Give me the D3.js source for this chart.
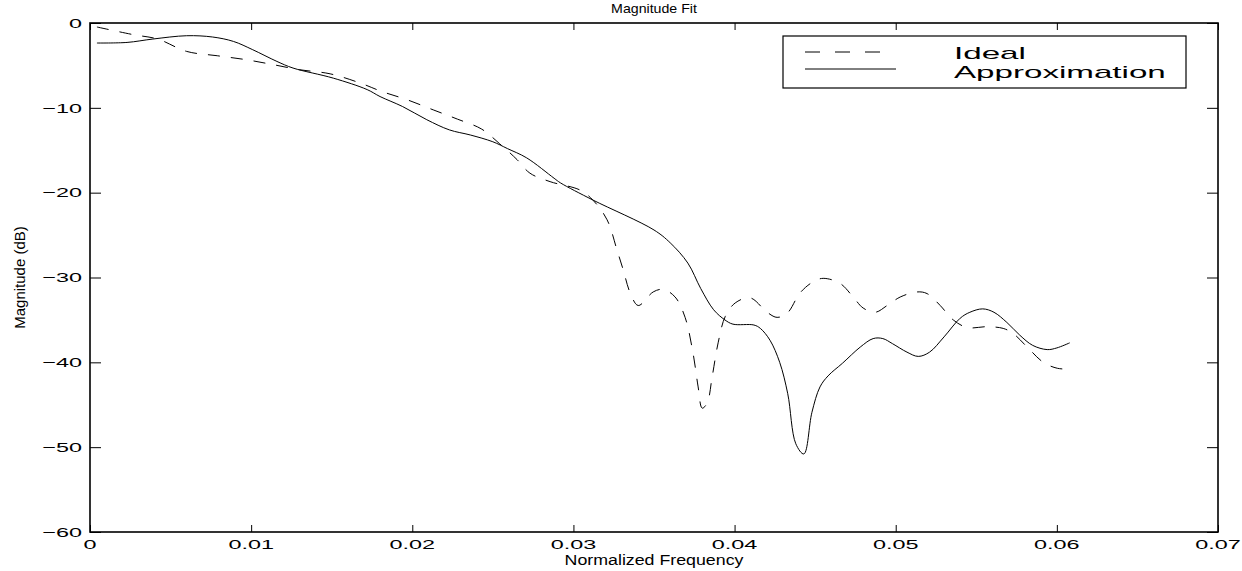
<!DOCTYPE html>
<html>
<head>
<meta charset="utf-8">
<script src="https://cdn.jsdelivr.net/npm/d3@7"></script>
<style>
  html, body { margin: 0; padding: 0; background: #fff; }
  svg { display: block; font-family: "Liberation Sans", Arial, Helvetica, sans-serif; }
</style>
</head>
<body>
<svg id="chart" width="1242" height="571"></svg>
<script>
// ---- Data ----
const idealFreq = [0.00043,0.0027,0.0042,0.0060,0.0079,0.0097,0.0114,0.0130,0.0149,0.0168,0.0181,0.0197,0.0213,0.0228,0.0243,0.0254,0.0265,0.0273,0.02855,0.03042,0.03122,0.03209,0.03271,0.03309,0.03352,0.03402,0.03495,0.03557,0.03631,0.03693,0.03743,0.03774,0.03799,0.0383,0.03861,0.03898,0.03942,0.04004,0.04097,0.04202,0.04264,0.04327,0.04407,0.04488,0.0455,0.04655,0.04736,0.04798,0.04873,0.04947,0.05028,0.05133,0.05195,0.05276,0.05357,0.05444,0.05568,0.05667,0.05729,0.05816,0.05916,0.06003,0.06083];
const idealMag = [-0.47,-1.38,-1.89,-3.35,-3.86,-4.33,-4.92,-5.51,-5.99,-7.1,-8.07,-9.06,-10.24,-11.33,-12.5,-14.2,-16.1,-17.7,-18.7,-19.7,-20.9,-23.2,-26.8,-29.1,-31.8,-33.3,-31.7,-31.4,-32.3,-34.7,-39.0,-42.9,-45.4,-44.8,-41.7,-37.7,-34.6,-33.0,-32.4,-34.1,-34.7,-34.2,-31.8,-30.5,-30.1,-30.7,-32.3,-33.6,-34.1,-33.3,-32.3,-31.7,-31.9,-33.3,-35.0,-35.9,-35.8,-36.0,-36.6,-38.2,-40.0,-40.7,-40.8];

const approxFreq = [0.00043,0.0023,0.0039,0.0060,0.0076,0.0089,0.0101,0.0116,0.0126,0.0151,0.0172,0.0180,0.0194,0.0209,0.0223,0.0236,0.0250,0.0259,0.0271,0.0288,0.0292,0.0312,0.0350,0.0360,0.0371,0.0379,0.0387,0.0394,0.0399,0.0412,0.0416,0.0422,0.0428,0.0433,0.0438,0.0443,0.0448,0.0453,0.0458,0.0467,0.0478,0.0486,0.0492,0.0498,0.0507,0.0514,0.0521,0.0530,0.0540,0.0546,0.0554,0.0561,0.0569,0.0577,0.0585,0.0594,0.0600,0.0608];
const approxMag = [-2.36,-2.29,-1.89,-1.5,-1.65,-2.17,-3.15,-4.53,-5.31,-6.5,-7.85,-8.67,-9.85,-11.4,-12.6,-13.2,-14.0,-14.8,-15.9,-18.3,-18.85,-20.86,-24.4,-25.9,-28.3,-31.3,-33.8,-35.0,-35.5,-35.6,-36.0,-37.4,-40.0,-43.7,-49.6,-50.8,-45.9,-42.9,-41.6,-40.1,-38.2,-37.2,-37.2,-37.8,-38.8,-39.3,-38.8,-37.0,-34.8,-34.1,-33.7,-34.1,-35.3,-36.8,-38.0,-38.5,-38.3,-37.7];

const xTicks = [0, 0.01, 0.02, 0.03, 0.04, 0.05, 0.06, 0.07];
const xTickLabels = ["0", "0.01", "0.02", "0.03", "0.04", "0.05", "0.06", "0.07"];
const yTicks = [0, -10, -20, -30, -40, -50, -60];
const yTickLabels = ["0", "\u221210", "\u221220", "\u221230", "\u221240", "\u221250", "\u221260"];
const seriesNames = ["Ideal", "Approximation"];
const titleText = "Magnitude Fit";
const xLabel = "Normalized Frequency";
const yLabel = "Magnitude (dB)";

// ---- Layout ----
const L = 90, R = 1218, T = 23, B = 532;
const svg = d3.select("#chart");
const x = d3.scaleLinear().domain([0, 0.07]).range([L, R]);
const y = d3.scaleLinear().domain([-60, 0]).range([B, T]);

function stext(g, px, py, str, size, sx, anchor) {
  return g.append("text")
    .attr("transform", `translate(${px},${py}) scale(${sx},1)`)
    .attr("text-anchor", anchor)
    .style("font-size", size + "px")
    .attr("fill", "#000")
    .text(str);
}

// Lines
const ideal = idealFreq.map((f, i) => [f, idealMag[i]]);
const approx = approxFreq.map((f, i) => [f, approxMag[i]]);
const line = d3.line().x(d => x(d[0])).y(d => y(d[1])).curve(d3.curveCatmullRom.alpha(0.5));

svg.append("path").datum(ideal).attr("d", line)
  .attr("fill", "none").attr("stroke", "#000").attr("stroke-width", 1)
  .attr("stroke-dasharray", "12,11");
svg.append("path").datum(approx).attr("d", line)
  .attr("fill", "none").attr("stroke", "#000").attr("stroke-width", 1);

// Axes with inward ticks on all four sides
const axB = d3.axisBottom(x).tickValues(xTicks).tickSize(-7).tickFormat("");
const axT = d3.axisTop(x).tickValues(xTicks).tickSize(-7).tickFormat("");
const axLft = d3.axisLeft(y).tickValues(yTicks).tickSize(-11).tickFormat("");
const axRgt = d3.axisRight(y).tickValues(yTicks).tickSize(-11).tickFormat("");
function styleAxis(g) {
  g.select(".domain").remove();
  g.selectAll(".tick line").attr("stroke", "#000").attr("stroke-width", 1);
}
svg.append("g").attr("transform", `translate(0,${B})`).call(axB).call(styleAxis);
svg.append("g").attr("transform", `translate(0,${T})`).call(axT).call(styleAxis);
svg.append("g").attr("transform", `translate(${L},0)`).call(axLft).call(styleAxis);
svg.append("g").attr("transform", `translate(${R},0)`).call(axRgt).call(styleAxis);

svg.append("rect").attr("x", L).attr("y", T).attr("width", R - L).attr("height", B - T)
  .attr("fill", "none").attr("stroke", "#000").attr("stroke-width", 1.6);

// Tick labels
const tl = svg.append("g");
xTicks.forEach((v, i) => stext(tl, x(v), B + 16.5, xTickLabels[i], 13, 1.8, "middle"));
yTicks.forEach((v, i) => stext(tl, L - 8, y(v) + 4.7, yTickLabels[i], 13, 1.8, "end"));

// Title and axis labels
stext(svg, (L + R) / 2, 13, titleText, 13.5, 1.05, "middle");
stext(svg, (L + R) / 2, 565, xLabel, 14, 1.27, "middle");
svg.append("text")
  .attr("transform", `translate(25,${(T + B) / 2}) rotate(-90)`)
  .attr("text-anchor", "middle").style("font-size", "15px").attr("fill", "#000")
  .text(yLabel);

// Legend
const lg = svg.append("g");
lg.append("rect").attr("x", 783).attr("y", 36).attr("width", 403).attr("height", 52)
  .attr("fill", "#fff").attr("stroke", "#000").attr("stroke-width", 1.2);
lg.append("line").attr("x1", 805).attr("x2", 880).attr("y1", 52).attr("y2", 52)
  .attr("stroke", "#000").attr("stroke-width", 1).attr("stroke-dasharray", "15,15");
lg.append("line").attr("x1", 805).attr("x2", 896).attr("y1", 69).attr("y2", 69)
  .attr("stroke", "#000").attr("stroke-width", 1);
stext(lg, 954, 59, seriesNames[0], 17, 1.95, "start");
stext(lg, 954, 78, seriesNames[1], 17, 1.95, "start");
</script>
</body>
</html>
